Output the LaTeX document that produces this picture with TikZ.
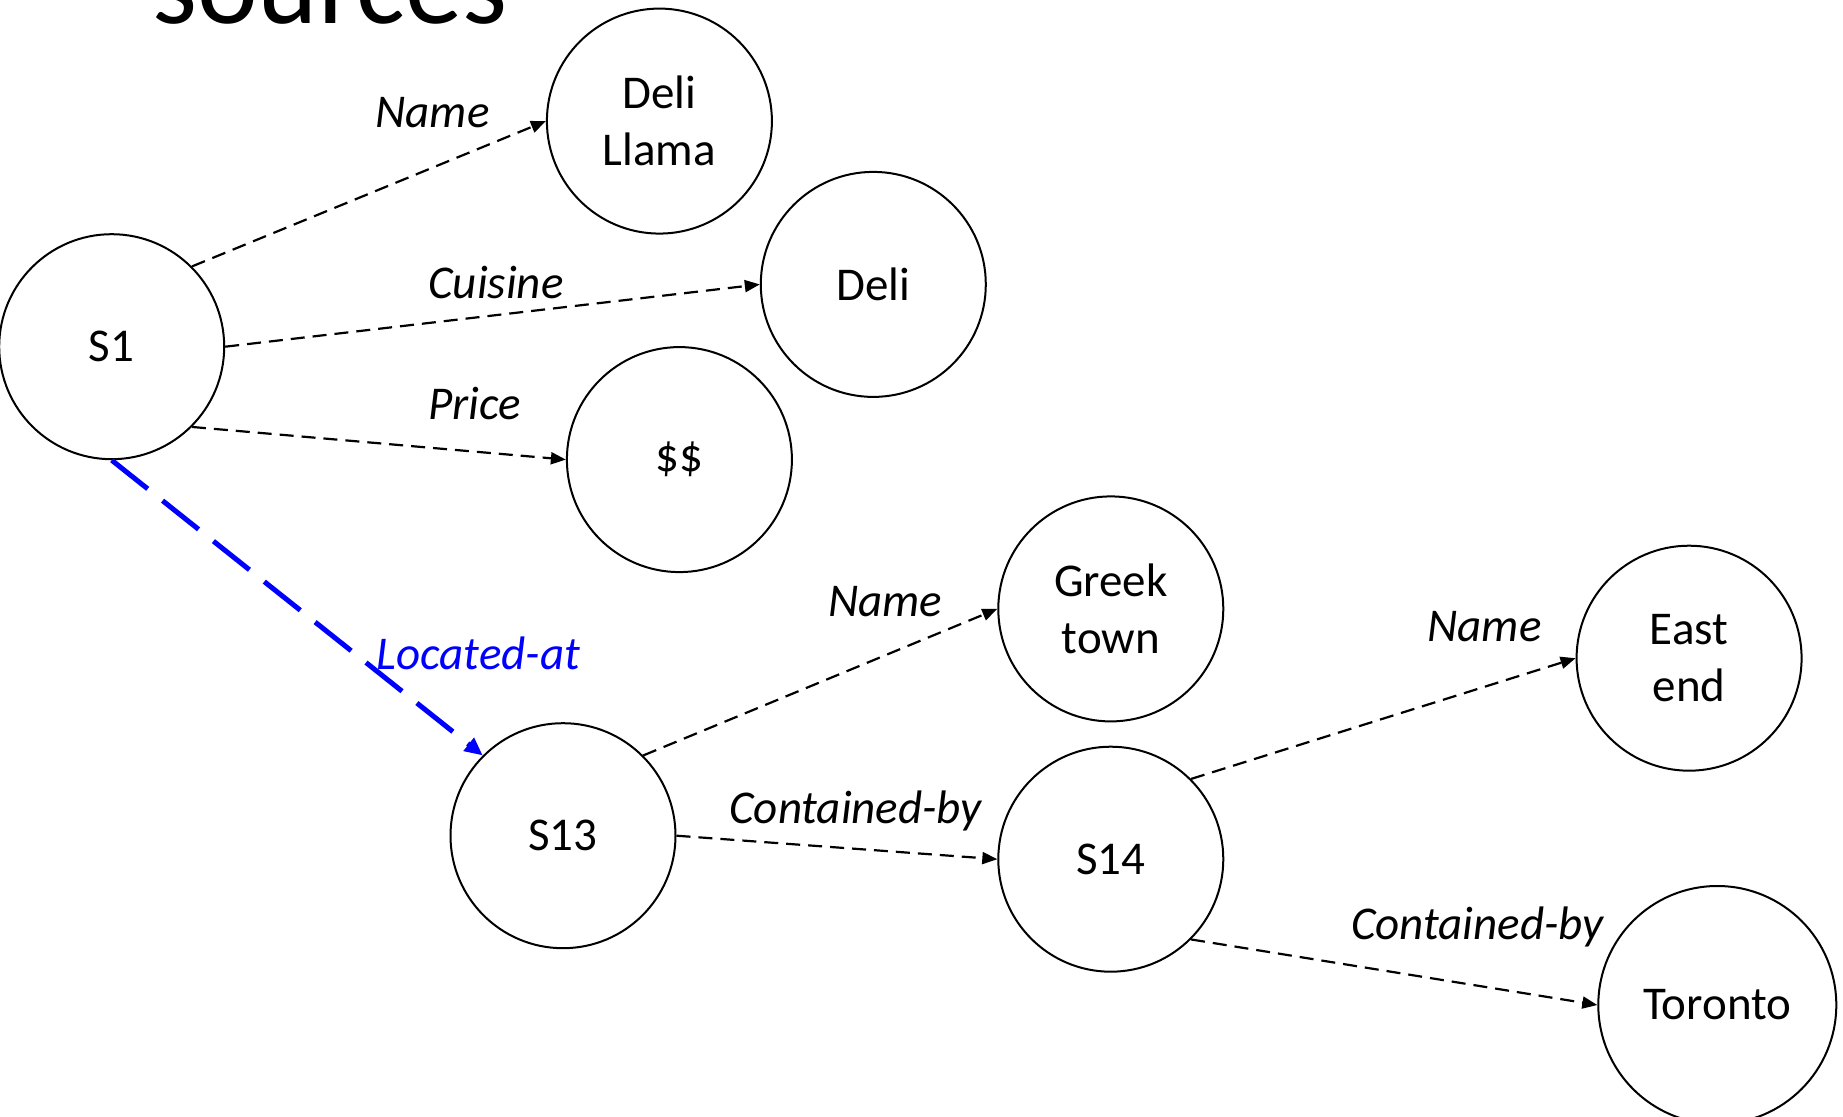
\documentclass[tikz,border=0pt]{standalone}
\usepackage{fontspec}
\setmainfont{Carlito}
\usetikzlibrary{arrows.meta}
\begin{document}
\begin{tikzpicture}[x=0.5pt,y=-0.5pt,
  ent/.style={circle,draw,line width=1pt,minimum size=112.5pt,inner sep=0pt,align=center,
    font=\fontsize{23.5pt}{28.5pt}\selectfont},
  rel/.style={draw,line width=1.1pt,dash pattern=on 7pt off 4pt,-{Triangle[length=7.5pt,width=6pt]}},
  loc/.style={draw=blue,line width=2.5pt,dash pattern=on 23pt off 9.5pt,-{Triangle[length=9pt,width=8pt]}},
  lbl/.style={font=\fontsize{23.5pt}{27pt}\selectfont\itshape,inner sep=0pt}]
\useasboundingbox (0,0) rectangle (1843,1117);
\node[anchor=base,font=\fontsize{57.5pt}{60pt}\selectfont,inner sep=0pt] (title) at (330,24) {sources};
\node[ent] (s1) at (111.7,346.7) {S1};
\node[ent] (dl) at (659.4,121.1) {Deli\\Llama};
\node[ent] (deli) at (873.3,284.4) {Deli};
\node[ent] (price) at (679.4,459.6) {\$\$};
\node[ent] (greek) at (1110.8,608.9) {Greek\\town};
\node[ent] (s13) at (563.0,835.7) {S13};
\node[ent] (s14) at (1110.8,859.2) {S14};
\node[ent] (east) at (1689.1,658.2) {East\\end};
\node[ent,minimum size=119pt] (tor) at (1717.3,1005.0) {Toronto};
\path[rel] (s1.45) -- (dl.west);
\path[rel] (s1.east) -- (deli.west);
\path[rel] (s1.-45) -- (price.west);
\path[loc] (s1.south) -- (s13.135);
\path[rel] (s13.45) -- (greek.west);
\path[rel] (s13.east) -- (s14.west);
\path[rel] (s14.45) -- (east.west);
\path[rel] (s14.-45) -- (tor.west);
\node[lbl] (l1) at (432.5,112.8) {Name};
\node[lbl] (l2) at (496.0,282.1) {Cuisine};
\node[lbl] (l3) at (474.9,403.2) {Price};
\node[lbl,text=blue] (l4) at (478.4,653.5) {Located-at};
\node[lbl] (l5) at (885.1,601.8) {Name};
\node[lbl] (l6) at (855.7,811.0) {Contained-by};
\node[lbl] (l7) at (1484.5,626.5) {Name};
\node[lbl] (l8) at (1477.5,927.4) {Contained-by};
\end{tikzpicture}
\end{document}
